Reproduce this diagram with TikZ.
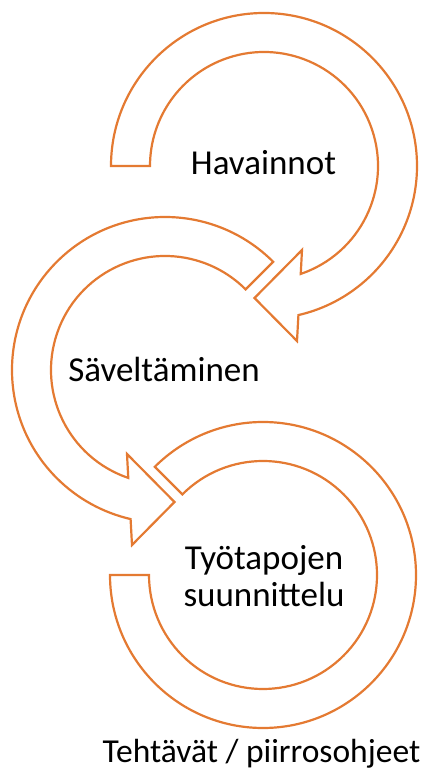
\documentclass[tikz,border=0pt]{standalone}
\usepackage{fontspec}
\setmainfont{Carlito}
\usetikzlibrary{calc}
\definecolor{arrcol}{RGB}{228,122,50}
\begin{document}
\begin{tikzpicture}[x=1pt,y=1pt,
  band/.style={draw=arrcol,line width=2.2pt,fill=white,line join=miter},
  lbl/.style={font=\fontsize{35}{37}\selectfont,text=black,inner sep=0pt,align=center}]
\useasboundingbox (0,0) rectangle (423,771);
\coordinate (c1) at (264,605);
\coordinate (c2) at (165,401);
\coordinate (c3) at (263,196);
% arrow 3 (bottom, plain band)
\draw[band] ($(c3)+(180:153)$) arc[start angle=180,end angle=495,radius=153pt]
  -- ($(c3)+(495:114)$) arc[start angle=495,end angle=180,radius=114pt] -- cycle;
% arrow 2 (middle, counterclockwise)
\draw[band] ($(c2)+(45:153)$) arc[start angle=45,end angle=257,radius=153pt]
  -- ($(c2)+(-33,-175)$) -- ($(c2)+(9.5,-132)$) -- ($(c2)+(-38,-84)$)
  -- ($(c2)+(251.2:114)$) arc[start angle=251.2,end angle=45,radius=114pt] -- cycle;
% arrow 1 (top, clockwise)
\draw[band] ($(c1)+(180:153)$) arc[start angle=180,end angle=-77,radius=153pt]
  -- ($(c1)+(33,-175)$) -- ($(c1)+(-9.5,-132)$) -- ($(c1)+(38,-84)$)
  -- ($(c1)+(-71.2:114)$) arc[start angle=-71.2,end angle=180,radius=114pt] -- cycle;
\node[lbl,anchor=base] (hav) at (263.5,596) {Havainnot};
\node[lbl,anchor=base] (sav) at (164,389) {Säveltäminen};
\node[lbl] (tyo) at (264,195) {Työtapojen\\suunnittelu};
\node[lbl,anchor=base,font=\fontsize{33.5}{37}\selectfont] (teh) at (261.5,9) {Tehtävät / piirrosohjeet};
\end{tikzpicture}
\end{document}
